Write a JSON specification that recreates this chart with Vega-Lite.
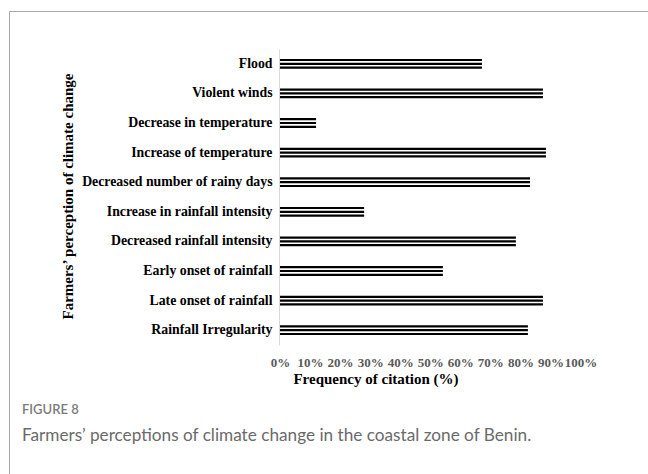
{
  "$schema": "https://vega.github.io/schema/vega-lite/v6.json",
  "width": 639,
  "height": 463,
  "autosize": {"type": "none"},
  "padding": {"left": 9, "top": 11, "right": 0, "bottom": 0},
  "background": "white",
  "data": {
    "values": [
      {"perception": "Flood", "freq": 67.2},
      {"perception": "Violent winds", "freq": 87.5},
      {"perception": "Decrease in temperature", "freq": 12.0},
      {"perception": "Increase of temperature", "freq": 88.5},
      {"perception": "Decreased number of rainy days", "freq": 83.2},
      {"perception": "Increase in rainfall intensity", "freq": 28.0},
      {"perception": "Decreased rainfall intensity", "freq": 78.5},
      {"perception": "Early onset of rainfall", "freq": 54.2},
      {"perception": "Late onset of rainfall", "freq": 87.5},
      {"perception": "Rainfall Irregularity", "freq": 82.5}
    ]
  },
  "title": {
    "text": "FIGURE 8",
    "subtitle": "Farmers’ perceptions of climate change in the coastal zone of Benin.",
    "orient": "top",
    "anchor": "start",
    "frame": "group",
    "offset": -433,
    "dx": 13,
    "font": "Lato",
    "fontSize": 13,
    "fontWeight": 600,
    "color": "#7b7b7b",
    "subtitleFont": "Lato",
    "subtitleFontSize": 17.2,
    "subtitleColor": "#6a6a6a",
    "subtitlePadding": 10
  },
  "encoding": {
    "y": {
      "field": "perception",
      "type": "nominal",
      "sort": null,
      "scale": {"range": [38, 334], "paddingInner": 0, "paddingOuter": 0},
      "axis": {
        "title": "Farmers’ perception of climate change",
        "orient": "left",
        "offset": -270,
        "ticks": false,
        "grid": false,
        "domainColor": "#d9d9d9",
        "domainWidth": 1,
        "labelFont": "Liberation Serif",
        "labelFontWeight": "bold",
        "labelFontSize": 13.8,
        "labelColor": "black",
        "labelPadding": 7,
        "labelLimit": 0,
        "titleFont": "Liberation Serif",
        "titleFontWeight": "bold",
        "titleFontSize": 15,
        "titleColor": "black",
        "titleX": -207,
        "titleY": 185,
        "titleAngle": -90,
        "titleAlign": "center",
        "titleBaseline": "alphabetic"
      }
    },
    "x": {
      "field": "freq",
      "type": "quantitative",
      "scale": {"domain": [-90.18, 122.46], "nice": false, "zero": false},
      "axis": {
        "title": "Frequency of citation (%)",
        "values": [0, 10, 20, 30, 40, 50, 60, 70, 80, 90, 100],
        "labelExpr": "datum.value + '%'",
        "offset": -130,
        "domain": false,
        "ticks": false,
        "grid": false,
        "labelFont": "Liberation Serif",
        "labelFontWeight": "bold",
        "labelFontSize": 13,
        "labelColor": "#595959",
        "labelPadding": 12,
        "labelOverlap": false,
        "labelFlush": false,
        "titleFont": "Liberation Serif",
        "titleFontWeight": "bold",
        "titleFontSize": 15,
        "titleColor": "black",
        "titleX": 366.5,
        "titleY": 39,
        "titleAlign": "center",
        "titleBaseline": "alphabetic"
      }
    },
    "x2": {"datum": 0}
  },
  "layer": [
    {"mark": {"type": "bar", "size": 2.2, "color": "black", "yOffset": -3.8}},
    {"mark": {"type": "bar", "size": 2.2, "color": "black"}},
    {"mark": {"type": "bar", "size": 2.2, "color": "black", "yOffset": 3.8}}
  ],
  "config": {
    "view": {"stroke": "#a9a9a9", "strokeWidth": 1, "strokeDash": [639, 1102, 463]}
  }
}
